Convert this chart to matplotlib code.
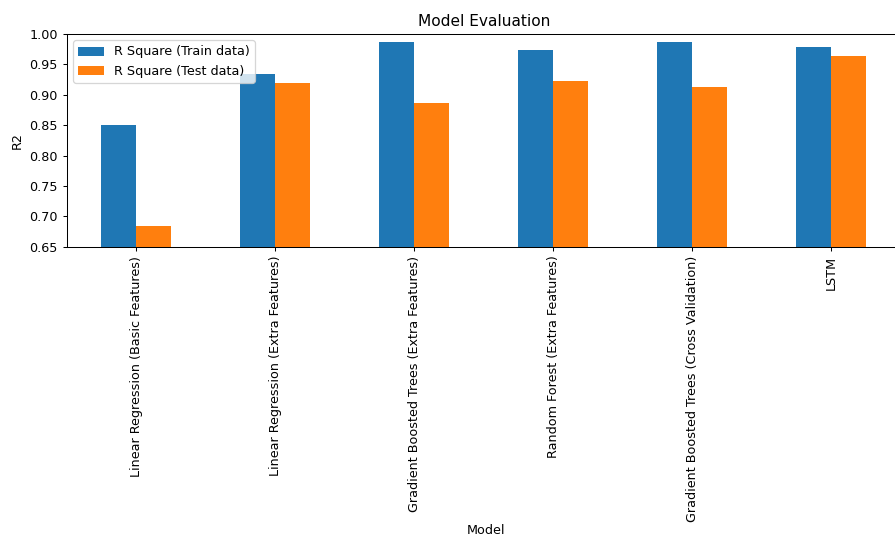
import matplotlib.pyplot as plt
import numpy as np

models = ['Linear Regression (Basic Features)',
          'Linear Regression (Extra Features)',
          'Gradient Boosted Trees (Extra Features)',
          'Random Forest (Extra Features)',
          'Gradient Boosted Trees (Cross Validation)',
          'LSTM']
r2_train = [0.850, 0.935, 0.987, 0.974, 0.987, 0.979]
r2_test = [0.684, 0.920, 0.886, 0.922, 0.912, 0.964]

DPI = 92
fig = plt.figure(figsize=(895/DPI, 536/DPI), dpi=DPI)
ax = fig.add_axes([66.7/895, 1-246.7/536, 834/895, 212.7/536])

x = np.arange(len(models))
w = 0.25
ax.bar(x - w/2, r2_train, w, color='#1f77b4', label='R Square (Train data)')
ax.bar(x + w/2, r2_test, w, color='#ff7f0e', label='R Square (Test data)')

ax.set_xticks(x)
ax.set_xticklabels(models, rotation=90)
ax.set_xlim(-0.5, len(models) - 0.5)
ax.set_ylim(0.65, 1.0)
ax.set_xlabel('Model', va='baseline')
ax.xaxis.set_label_coords(0.5025, (246.7-534.5)/212.7)
ax.set_ylabel('R2')
ax.set_title('Model Evaluation')
ax.legend(loc='upper left')

plt.savefig('out.png', dpi=DPI)
